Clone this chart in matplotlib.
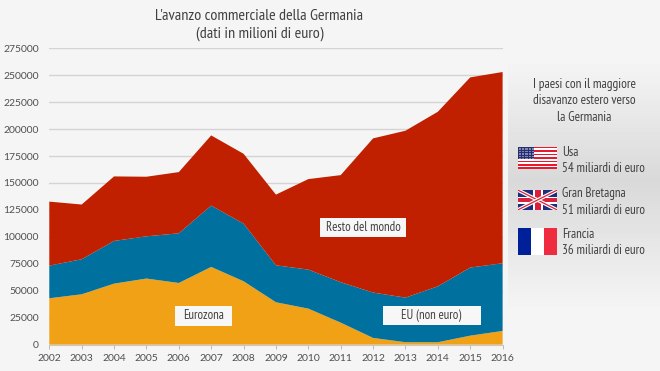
#!/usr/bin/env python3
"""L'avanzo commerciale della Germania: area impilata con pannello dei paesi"""

import numpy as np
import matplotlib
matplotlib.use('Agg')
import matplotlib.pyplot as plt
from matplotlib.patches import Rectangle

W, H = 660, 371

years = [2002, 2003, 2004, 2005, 2006, 2007, 2008, 2009, 2010, 2011, 2012, 2013, 2014, 2015, 2016]
eurozona = [43000, 46700, 56600, 61300, 57200, 72100, 58800, 39300, 33400, 20400, 6200, 2200, 2200, 8300, 12700]
eu_non_euro = [30300, 32500, 39600, 39200, 46100, 56900, 53500, 34300, 36200, 37500, 42100, 41400, 51900, 63200, 62800]
resto = [59400, 50800, 59900, 55300, 56800, 65150, 64800, 65600, 84000, 99400, 143100, 154900, 162000, 176500, 177500]
y_ticks = list(range(0, 275001, 25000))

title_lines = "L'avanzo commerciale della Germania\n(dati in milioni di euro)"
panel_title = "I paesi con il maggiore\ndisavanzo estero verso\nla Germania"
countries = ["Usa", "Gran Bretagna", "Francia"]
deficits = ["54 miliardi di euro", "51 miliardi di euro", "36 miliardi di euro"]

COL_EURO = '#f0a116'
COL_EU = '#00709f'
COL_RESTO = '#c02000'
BG = '#f5f5f5'
TEXT = '#404040'
NARROW = ['PT Sans Narrow', 'Roboto', 'DejaVu Sans']

fig = plt.figure(figsize=(W / 100, H / 100), dpi=100, facecolor=BG)

# livello di sfondo in pixel, origine in alto a sinistra
bg = fig.add_axes([0, 0, 1, 1], zorder=0)
bg.axis('off')

# pannello destro con sfumatura verticale
grad = np.interp(np.arange(H), [60, 180, 310], [0.96, 0.85, 0.96]).reshape(-1, 1)
bg.imshow(grad, extent=[508, W, H, 0], cmap='gray', vmin=0, vmax=1, aspect='auto')
bg.set_xlim(0, W)
bg.set_ylim(H, 0)

# grafico principale
x0, x1, y_top, y_bot = 49.3, 502.6, 48.3, 344.6
ax = fig.add_axes([x0 / W, 1 - y_bot / H, (x1 - x0) / W, (y_bot - y_top) / H], zorder=1)
ax.patch.set_alpha(0)
ax.stackplot(years, eurozona, eu_non_euro, resto, colors=[COL_EURO, COL_EU, COL_RESTO], zorder=2)
ax.set_xlim(2002, 2016)
ax.set_ylim(0, 275000)
ax.set_yticks(y_ticks)
ax.set_xticks(years)
ax.grid(True, axis='y', color='#d4d4d4', linewidth=1.0, zorder=1)
ax.set_axisbelow(True)
for s in ['top', 'right', 'left']:
    ax.spines[s].set_visible(False)
ax.spines['bottom'].set_color('#c8c8c8')
ax.tick_params(axis='y', length=0, pad=7.5, labelsize=7.5, labelcolor='#505050')
ax.tick_params(axis='x', length=3, width=0.6, color='#b0b0b0', pad=3.5, labelsize=7.5, labelcolor='#505050')
for lab in ax.get_xticklabels() + ax.get_yticklabels():
    lab.set_fontfamily(['Lato', 'DejaVu Sans'])

# livello superiore per testi, etichette e bandiere
top = fig.add_axes([0, 0, 1, 1], zorder=2)
top.set_xlim(0, W)
top.set_ylim(H, 0)
top.axis('off')
top.patch.set_alpha(0)

top.text(259.5, 25, title_lines, ha='center', va='center', fontsize=11.6, color=TEXT,
         family=NARROW, linespacing=1.3)
top.text(584, 101, panel_title, ha='center', va='center', fontsize=9.5, color=TEXT,
         family=NARROW, linespacing=1.38)

# etichette delle aree
for label, (l, r, t, b) in [("Eurozona", (175, 232, 306, 325.5)),
                            ("Resto del mondo", (320, 406, 217.5, 237)),
                            ("EU (non euro)", (382.5, 480.7, 305.5, 325))]:
    top.add_patch(Rectangle((l, t), r - l, b - t, facecolor='#f7f7f7', edgecolor='none'))
    top.text((l + r) / 2, (t + b) / 2, label, ha='center', va='center', fontsize=9.2,
             color=TEXT, family=NARROW)


def rect(l, t, w, h, color):
    p = Rectangle((l, t), w, h, facecolor=color, edgecolor='none')
    top.add_patch(p)
    return p


def flag_usa(l, t, w, h):
    rect(l, t, w, h, 'white')
    for i in range(0, 13, 2):
        rect(l, t + i * h / 13, w, h / 13, '#e8192c')
    rect(l, t, w * 0.42, h * 7 / 13, '#27306e')
    # stelle come puntini
    sx, sy = np.meshgrid(np.linspace(l + 1, l + w * 0.42 - 1, 11), np.linspace(t + 1, t + h * 7 / 13 - 1, 7))
    top.scatter(sx.ravel(), sy.ravel(), s=0.5, color='#8a8ab8', linewidths=0)


def flag_uk(l, t, w, h):
    box = rect(l, t, w, h, '#1d2f7c')
    for a, b in [((l, t), (l + w, t + h)), ((l, t + h), (l + w, t))]:
        for color, lw in [('white', 2.6), ('#d8213a', 0.9)]:
            line, = top.plot([a[0], b[0]], [a[1], b[1]], color=color, linewidth=lw, solid_capstyle='butt')
            line.set_clip_path(box)
    rect(l + w / 2 - 5, t, 10, h, 'white')
    rect(l, t + h / 2 - 3.5, w, 7, 'white')
    rect(l + w / 2 - 3, t, 6, h, '#d8213a')
    rect(l, t + h / 2 - 2, w, 4, '#d8213a')


def flag_fr(l, t, w, h):
    rect(l, t, w / 3, h, '#00209a')
    rect(l + w / 3, t, w / 3, h, 'white')
    rect(l + 2 * w / 3, t, w / 3, h, '#ef2b40')


flag_usa(517.7, 146.7, 39.6, 22.5)
flag_uk(517.7, 190, 39.6, 20)
flag_fr(517.7, 228, 39.6, 27)
top.set_xlim(0, W)
top.set_ylim(H, 0)

for country, deficit, yc in zip(countries, deficits, [152.3, 193.7, 234]):
    top.text(561.7, yc, country, ha='left', va='center', fontsize=9.4, color=TEXT, family=NARROW)
    top.text(561.7, yc + 16.7, deficit, ha='left', va='center', fontsize=9.4, color=TEXT, family=NARROW)

fig.savefig('out.png', dpi=100, facecolor=BG)
